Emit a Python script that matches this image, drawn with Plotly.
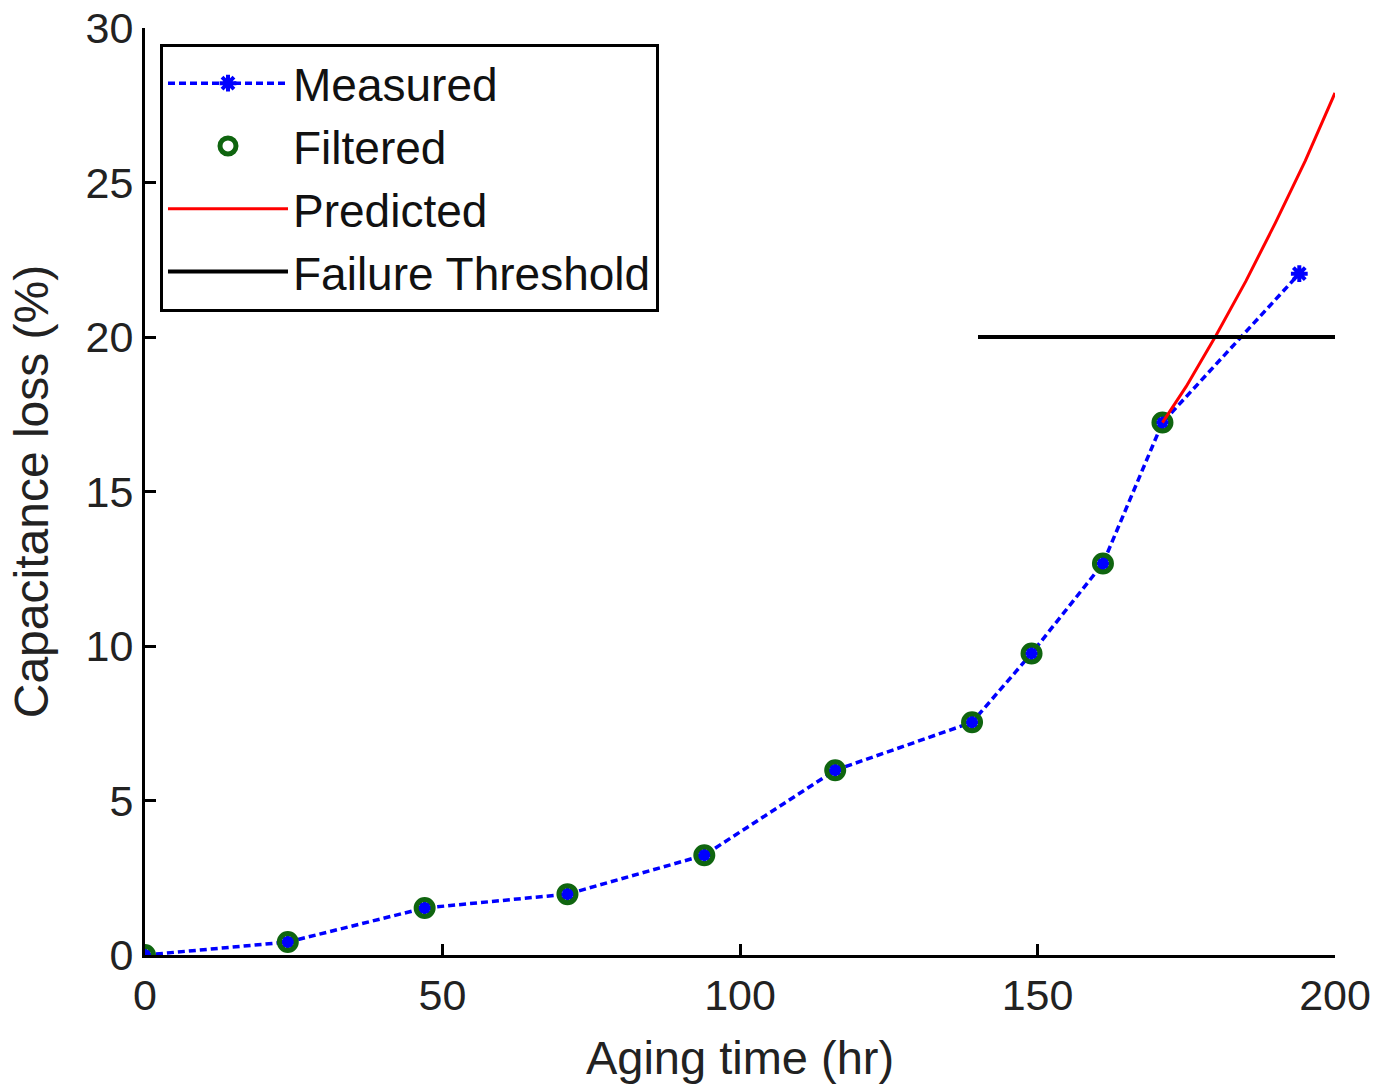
import plotly.graph_objects as go

# Data
aging_time = [0, 24, 47, 71, 94, 116, 139, 149, 161, 171, 194]
measured_loss = [0.0, 0.42, 1.52, 1.97, 3.23, 5.98, 7.53, 9.76, 12.67, 17.23, 22.05]

filtered_time = [0, 24, 47, 71, 94, 116, 139, 149, 161, 171]
filtered_loss = [0.0, 0.42, 1.52, 1.97, 3.23, 5.98, 7.53, 9.76, 12.67, 17.23]

predicted_time = [171, 175, 180, 185, 190, 195, 200]
predicted_loss = [17.23, 18.4, 20.05, 21.8, 23.7, 25.7, 27.9]

threshold_time = [140, 200]
threshold_loss = [20, 20]

FONT = "Liberation Sans, Arial, Helvetica, sans-serif"

fig = go.Figure()

fig.add_trace(go.Scatter(
    x=aging_time, y=measured_loss, name="Measured", mode="lines+markers",
    line=dict(color="#0000FF", width=3.5, dash="7px,4px"),
    marker=dict(symbol="asterisk-open", size=14, color="#0000FF",
                line=dict(color="#0000FF", width=4)),
))
fig.add_trace(go.Scatter(
    x=filtered_time, y=filtered_loss, name="Filtered", mode="markers",
    marker=dict(symbol="circle-open", size=17, color="#0f650f",
                line=dict(color="#0f650f", width=5)),
))
fig.add_trace(go.Scatter(
    x=predicted_time, y=predicted_loss, name="Predicted", mode="lines",
    line=dict(color="#FF0000", width=3),
))
fig.add_trace(go.Scatter(
    x=threshold_time, y=threshold_loss, name="Failure Threshold", mode="lines",
    line=dict(color="#000000", width=4),
))

axis_common = dict(
    showline=True, linecolor="black", linewidth=3, mirror=False,
    ticks="inside", ticklen=11, tickwidth=3, tickcolor="black",
    showgrid=False, zeroline=False,
    tickfont=dict(family=FONT, size=43, color="#222222"),
    ticklabeloverflow="allow",
    automargin=False,
)

fig.update_xaxes(
    range=[0, 200], tickvals=[0, 50, 100, 150, 200],
    title=dict(text="Aging time (hr)", font=dict(family=FONT, size=47, color="#222222"), standoff=24),
    **axis_common,
)
fig.update_yaxes(
    range=[0, 30], tickvals=[0, 5, 10, 15, 20, 25, 30],
    title=dict(text="Capacitance loss (%)", font=dict(family=FONT, size=48, color="#222222"), standoff=22),
    **axis_common,
)

fig.update_layout(
    width=1380, height=1090,
    margin=dict(l=145, r=45, t=28, b=135),
    plot_bgcolor="white", paper_bgcolor="white",
    font=dict(family=FONT, color="#222222"),
    legend=dict(
        x=0.0126, y=0.983, xanchor="left", yanchor="top",
        bgcolor="white", bordercolor="black", borderwidth=3,
        font=dict(family=FONT, size=46, color="#111111"),
        itemwidth=120, tracegroupgap=0,
    ),
    showlegend=True,
)

fig.write_html(
    "out.html",
    config={"displayModeBar": False},
    post_script="document.body.style.margin='0';document.body.style.overflow='hidden';",
)
